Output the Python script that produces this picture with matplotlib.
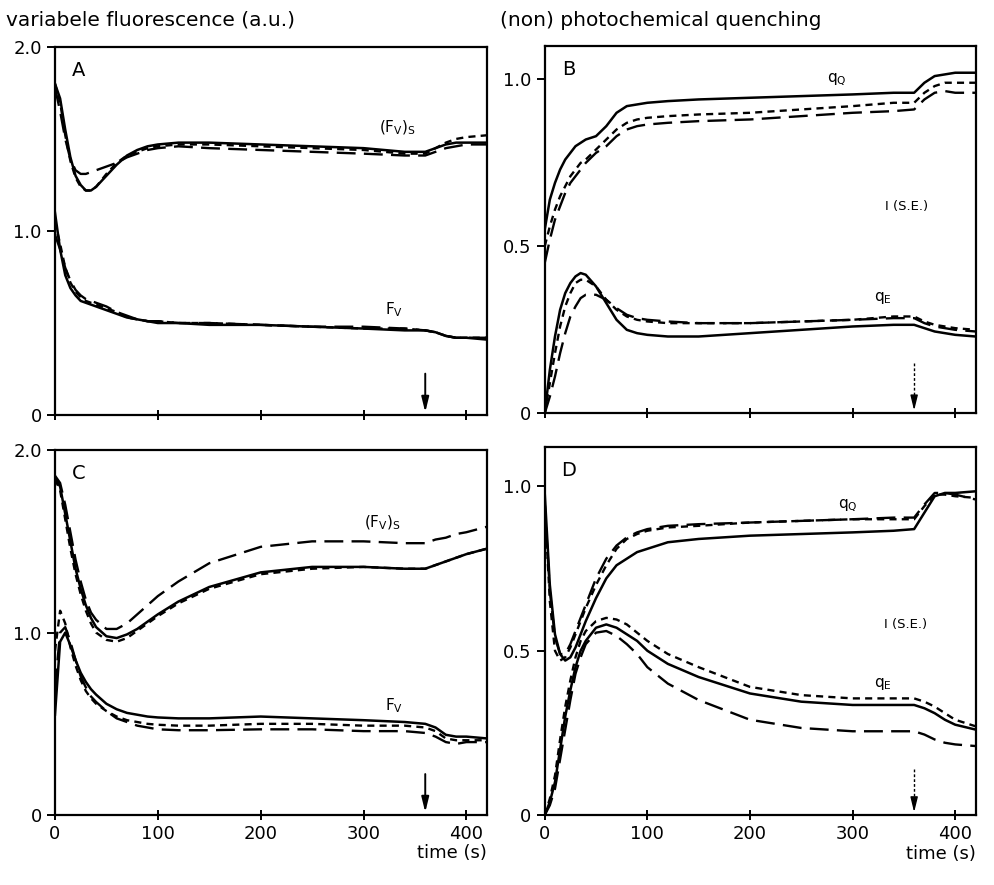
import matplotlib
matplotlib.use("Agg")
import matplotlib.pyplot as plt

# ---------------- data ----------------
t = [0, 5, 10, 15, 20, 25, 30, 35, 40, 50, 60, 70, 80, 90, 100, 120, 150,
     200, 250, 300, 340, 360, 370, 380, 390, 400, 420]

# Panel A : variable fluorescence
A_fvs_solid = [1.80, 1.72, 1.55, 1.40, 1.30, 1.25, 1.22, 1.22, 1.24, 1.30, 1.36, 1.41, 1.44, 1.46, 1.47, 1.48, 1.48,
               1.47, 1.46, 1.45, 1.43, 1.43, 1.45, 1.47, 1.48, 1.48, 1.48]
A_fvs_sdash = [1.80, 1.70, 1.52, 1.38, 1.29, 1.24, 1.22, 1.22, 1.24, 1.31, 1.37, 1.41, 1.43, 1.45, 1.46, 1.47, 1.47,
               1.46, 1.45, 1.44, 1.42, 1.42, 1.45, 1.48, 1.50, 1.51, 1.52]
A_fvs_ldash = [1.78, 1.65, 1.50, 1.39, 1.33, 1.31, 1.31, 1.32, 1.33, 1.35, 1.37, 1.40, 1.42, 1.44, 1.45, 1.46, 1.45,
               1.44, 1.43, 1.42, 1.41, 1.41, 1.43, 1.45, 1.46, 1.47, 1.47]
A_fv_solid = [1.10, 0.90, 0.76, 0.69, 0.65, 0.62, 0.61, 0.60, 0.59, 0.57, 0.55, 0.53, 0.52, 0.51, 0.50, 0.50, 0.49,
              0.49, 0.48, 0.47, 0.46, 0.46, 0.45, 0.43, 0.42, 0.42, 0.41]
A_fv_sdash = [1.05, 0.93, 0.80, 0.72, 0.67, 0.64, 0.62, 0.61, 0.60, 0.58, 0.56, 0.53, 0.52, 0.51, 0.51, 0.50, 0.50,
              0.49, 0.48, 0.47, 0.47, 0.46, 0.45, 0.43, 0.42, 0.42, 0.42]
A_fv_ldash = [0.98, 0.90, 0.80, 0.73, 0.68, 0.65, 0.63, 0.62, 0.61, 0.59, 0.56, 0.54, 0.52, 0.51, 0.51, 0.50, 0.50,
              0.49, 0.48, 0.48, 0.47, 0.46, 0.45, 0.43, 0.42, 0.42, 0.42]

# Panel B : quenching
B_qq_solid = [0.55, 0.64, 0.69, 0.73, 0.76, 0.78, 0.80, 0.81, 0.82, 0.83, 0.86, 0.90, 0.92, 0.925, 0.93, 0.935, 0.94,
              0.945, 0.95, 0.955, 0.96, 0.96, 0.99, 1.01, 1.015, 1.02, 1.02]
B_qq_sdash = [0.50, 0.56, 0.61, 0.65, 0.68, 0.71, 0.73, 0.75, 0.76, 0.79, 0.82, 0.85, 0.87, 0.88, 0.885, 0.89, 0.895,
              0.90, 0.91, 0.92, 0.93, 0.93, 0.96, 0.98, 0.99, 0.99, 0.99]
B_qq_ldash = [0.45, 0.52, 0.58, 0.62, 0.66, 0.69, 0.71, 0.73, 0.75, 0.78, 0.80, 0.83, 0.85, 0.86, 0.865, 0.87, 0.875,
              0.88, 0.89, 0.90, 0.905, 0.91, 0.94, 0.96, 0.965, 0.96, 0.96]
B_qe_solid = [0.00, 0.13, 0.23, 0.31, 0.36, 0.39, 0.41, 0.42, 0.415, 0.38, 0.33, 0.28, 0.25, 0.24, 0.235, 0.23, 0.23,
              0.24, 0.25, 0.26, 0.265, 0.265, 0.255, 0.245, 0.24, 0.235, 0.23]
B_qe_sdash = [0.00, 0.09, 0.18, 0.26, 0.32, 0.36, 0.39, 0.40, 0.40, 0.38, 0.34, 0.31, 0.29, 0.28, 0.275, 0.27, 0.27,
              0.27, 0.275, 0.28, 0.29, 0.29, 0.275, 0.265, 0.26, 0.255, 0.25]
B_qe_ldash = [0.00, 0.05, 0.11, 0.18, 0.24, 0.29, 0.32, 0.345, 0.355, 0.355, 0.34, 0.315, 0.295, 0.285, 0.28, 0.275, 0.27,
              0.27, 0.275, 0.28, 0.285, 0.285, 0.27, 0.26, 0.255, 0.25, 0.245]

# Panel C : variable fluorescence
C_fvs_solid = [1.85, 1.80, 1.65, 1.50, 1.35, 1.24, 1.15, 1.08, 1.03, 0.98, 0.97, 0.99, 1.02, 1.06, 1.10, 1.17, 1.25,
               1.33, 1.36, 1.36, 1.35, 1.35, 1.37, 1.39, 1.41, 1.43, 1.46]
C_fvs_sdash = [1.84, 1.78, 1.62, 1.46, 1.32, 1.21, 1.12, 1.05, 1.00, 0.96, 0.95, 0.97, 1.01, 1.05, 1.09, 1.16, 1.24,
               1.32, 1.35, 1.36, 1.35, 1.35, 1.37, 1.39, 1.41, 1.43, 1.46]
C_fvs_ldash = [1.86, 1.82, 1.70, 1.55, 1.40, 1.28, 1.18, 1.11, 1.07, 1.02, 1.02, 1.05, 1.10, 1.15, 1.20, 1.28, 1.38,
               1.47, 1.50, 1.50, 1.49, 1.49, 1.51, 1.52, 1.54, 1.55, 1.58]
C_fv_solid = [0.55, 0.95, 1.00, 0.93, 0.85, 0.78, 0.73, 0.69, 0.66, 0.61, 0.58, 0.56, 0.55, 0.54, 0.535, 0.53, 0.53,
              0.54, 0.53, 0.52, 0.51, 0.50, 0.48, 0.44, 0.43, 0.43, 0.42]
C_fv_sdash = [0.90, 1.12, 1.05, 0.92, 0.82, 0.74, 0.68, 0.64, 0.61, 0.57, 0.54, 0.52, 0.51, 0.50, 0.495, 0.49, 0.49,
              0.50, 0.50, 0.49, 0.49, 0.48, 0.46, 0.42, 0.41, 0.41, 0.41]
C_fv_ldash = [0.70, 1.00, 1.03, 0.95, 0.85, 0.76, 0.70, 0.65, 0.62, 0.57, 0.53, 0.51, 0.49, 0.48, 0.47, 0.465, 0.465,
              0.47, 0.47, 0.46, 0.46, 0.45, 0.43, 0.40, 0.39, 0.40, 0.40]

# Panel D : quenching
D_qq_solid = [0.98, 0.70, 0.55, 0.49, 0.47, 0.48, 0.51, 0.55, 0.59, 0.66, 0.72, 0.76, 0.78, 0.80, 0.81, 0.83, 0.84,
              0.85, 0.855, 0.86, 0.865, 0.87, 0.92, 0.97, 0.98, 0.98, 0.985]
D_qq_sdash = [0.95, 0.65, 0.50, 0.47, 0.48, 0.51, 0.55, 0.59, 0.63, 0.70, 0.76, 0.81, 0.84, 0.855, 0.865, 0.875, 0.88,
              0.89, 0.895, 0.90, 0.90, 0.90, 0.94, 0.975, 0.975, 0.97, 0.965]
D_qq_ldash = [0.95, 0.68, 0.54, 0.49, 0.49, 0.52, 0.56, 0.60, 0.64, 0.72, 0.78, 0.82, 0.845, 0.86, 0.87, 0.88, 0.885,
              0.89, 0.895, 0.90, 0.905, 0.905, 0.945, 0.98, 0.98, 0.975, 0.96]
D_qe_solid = [0.00, 0.04, 0.10, 0.20, 0.30, 0.38, 0.45, 0.50, 0.53, 0.57, 0.58, 0.57, 0.55, 0.53, 0.50, 0.46, 0.42,
              0.37, 0.345, 0.335, 0.335, 0.335, 0.325, 0.31, 0.29, 0.275, 0.26]
D_qe_sdash = [0.00, 0.05, 0.12, 0.23, 0.33, 0.41, 0.48, 0.53, 0.56, 0.59, 0.60, 0.595, 0.58, 0.555, 0.53, 0.49, 0.45,
              0.39, 0.365, 0.355, 0.355, 0.355, 0.345, 0.33, 0.31, 0.29, 0.27]
D_qe_ldash = [0.00, 0.03, 0.08, 0.17, 0.26, 0.35, 0.43, 0.48, 0.52, 0.555, 0.56, 0.545, 0.52, 0.49, 0.45, 0.40, 0.35,
              0.29, 0.265, 0.255, 0.255, 0.255, 0.245, 0.23, 0.22, 0.215, 0.21]

x_ticks = [0, 100, 200, 300, 400]
fl_ticks = [0, 1.0, 2.0]
fl_ticklabels = ["0", "1.0", "2.0"]
q_ticks = [0, 0.5, 1.0]
q_ticklabels = ["0", "0.5", "1.0"]
light_off = 360

# ---------------- figure ----------------
plt.rcParams['font.family'] = ['DejaVu Sans']
plt.rcParams['mathtext.fontset'] = 'dejavusans'
fig = plt.figure(figsize=(9.94, 8.85), dpi=100)

axA = fig.add_axes([0.0553, 0.531, 0.4346, 0.416])
axB = fig.add_axes([0.548, 0.533, 0.4336, 0.415])
axC = fig.add_axes([0.0553, 0.079, 0.4346, 0.4124])
axD = fig.add_axes([0.548, 0.079, 0.4336, 0.416])

STY = {
    'solid': dict(ls='-', lw=1.8),
    'sdash': dict(ls=(0, (3.0, 2.2)), lw=1.7),
    'ldash': dict(ls=(0, (8.0, 3.5)), lw=1.7),
}

def draw(ax, s, sd, ld):
    ax.plot(t, s, color='k', **STY['solid'])
    ax.plot(t, sd, color='k', **STY['sdash'])
    ax.plot(t, ld, color='k', **STY['ldash'])

draw(axA, A_fvs_solid, A_fvs_sdash, A_fvs_ldash)
draw(axA, A_fv_solid, A_fv_sdash, A_fv_ldash)
draw(axB, B_qq_solid, B_qq_sdash, B_qq_ldash)
draw(axB, B_qe_solid, B_qe_sdash, B_qe_ldash)
draw(axC, C_fvs_solid, C_fvs_sdash, C_fvs_ldash)
draw(axC, C_fv_solid, C_fv_sdash, C_fv_ldash)
draw(axD, D_qq_solid, D_qq_sdash, D_qq_ldash)
draw(axD, D_qe_solid, D_qe_sdash, D_qe_ldash)

FS = 13
for ax in (axA, axB, axC, axD):
    ax.set_xlim(0, 420)
    ax.set_xticks(x_ticks)
    for sp in ax.spines.values():
        sp.set_linewidth(1.6)
    ax.tick_params(axis='x', direction='inout', length=7, width=1.4, labelsize=FS)
    ax.tick_params(axis='y', direction='out', length=6, width=1.4, labelsize=FS)

for ax in (axA, axC):
    ax.set_ylim(0, 2.0)
    ax.set_yticks(fl_ticks)
    ax.set_yticklabels(fl_ticklabels)
axB.set_ylim(0, 1.1)
axD.set_ylim(0, 1.12)
for ax in (axB, axD):
    ax.set_yticks(q_ticks)
    ax.set_yticklabels(q_ticklabels)

for ax in (axA, axB):
    ax.set_xticklabels([])
for ax in (axC, axD):
    ax.set_xticklabels([str(v) for v in x_ticks])
    ax.text(1.0, -0.105, "time (s)", transform=ax.transAxes, ha='right', va='center', fontsize=FS)

# panel letters
for ax, letter in ((axA, 'A'), (axB, 'B'), (axC, 'C'), (axD, 'D')):
    ax.text(0.055, 0.935, letter, transform=ax.transAxes, ha='center', va='center', fontsize=14)

# curve labels
LFS = 11
axA.text(333, 1.56, r'$(\mathrm{F}_\mathrm{V})_\mathrm{S}$', ha='center', va='center', fontsize=LFS)
axA.text(330, 0.57, r'$\mathrm{F}_\mathrm{V}$', ha='center', va='center', fontsize=LFS)
axC.text(318, 1.60, r'$(\mathrm{F}_\mathrm{V})_\mathrm{S}$', ha='center', va='center', fontsize=LFS)
axC.text(330, 0.60, r'$\mathrm{F}_\mathrm{V}$', ha='center', va='center', fontsize=LFS)
axB.text(285, 1.0, r'$\mathrm{q}_\mathrm{Q}$', ha='center', va='center', fontsize=LFS)
axB.text(353, 0.62, 'I (S.E.)', ha='center', va='center', fontsize=9.5)
axB.text(330, 0.345, r'$\mathrm{q}_\mathrm{E}$', ha='center', va='center', fontsize=LFS)
axD.text(295, 0.94, r'$\mathrm{q}_\mathrm{Q}$', ha='center', va='center', fontsize=LFS)
axD.text(352, 0.58, 'I (S.E.)', ha='center', va='center', fontsize=9.5)
axD.text(330, 0.40, r'$\mathrm{q}_\mathrm{E}$', ha='center', va='center', fontsize=LFS)

# light-off arrows
def arrow(ax, ytop, dashed=False):
    if dashed:
        ax.plot([light_off, light_off], [ytop, ytop * 0.35], color='k', lw=1.0, ls=(0, (2, 1.5)))
        ax.annotate('', xy=(light_off, 0), xytext=(light_off, ytop * 0.36),
                    arrowprops=dict(arrowstyle='-|>,head_length=0.9,head_width=0.22', color='k', lw=1.0))
    else:
        ax.annotate('', xy=(light_off, 0), xytext=(light_off, ytop),
                    arrowprops=dict(arrowstyle='-|>,head_length=0.9,head_width=0.22', color='k', lw=1.4))

arrow(axA, 0.24)
arrow(axC, 0.24)
arrow(axB, 0.15, dashed=True)
arrow(axD, 0.14, dashed=True)

fig.text(0.006, 0.977, 'variabele fluorescence (a.u.)', ha='left', va='center', fontsize=14.5)
fig.text(0.503, 0.977, '(non) photochemical quenching', ha='left', va='center', fontsize=14.5)

fig.savefig('out.png', dpi=100)
